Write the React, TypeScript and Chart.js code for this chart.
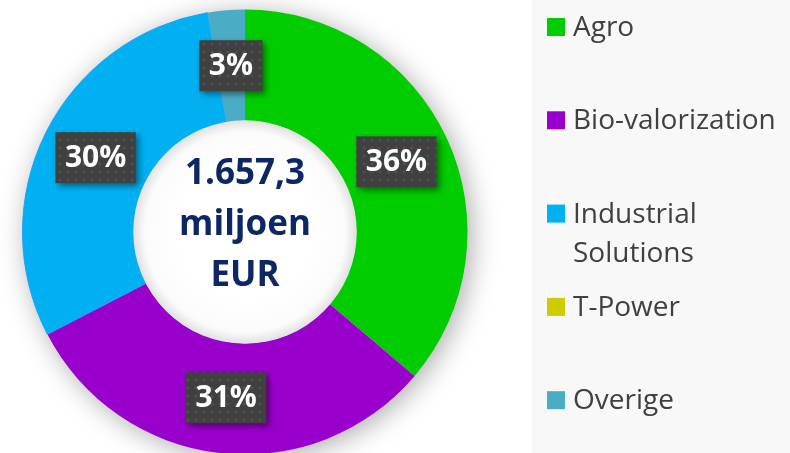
import React, { useEffect, useRef } from "react";
import { Chart, registerables } from "chart.js";
Chart.register(...registerables);

const segments = ["Agro", "Bio-valorization", "Industrial Solutions", "T-Power", "Overige"];
const shares = [36.2, 31.2, 29.9, 0, 2.7];
const colors = ["#00cc00", "#9900cc", "#00b0f0", "#cccc00", "#4bacc6"];
const centerLines = ["1.657,3", "miljoen", "EUR"];

function makePattern(ctx: CanvasRenderingContext2D) {
  const c = document.createElement("canvas");
  c.width = 8;
  c.height = 8;
  const p = c.getContext("2d")!;
  p.fillStyle = "#404040";
  p.fillRect(0, 0, 8, 8);
  p.fillStyle = "rgba(255,255,255,0.08)";
  p.beginPath();
  p.arc(4, 4, 1.6, 0, Math.PI * 2);
  p.fill();
  return ctx.createPattern(c, "repeat");
}

const decorPlugin = {
  id: "decor",
  beforeDraw(chart: any) {
    const ctx = chart.ctx;
    ctx.save();
    ctx.fillStyle = "#ffffff";
    ctx.fillRect(0, 0, chart.width, chart.height);
    ctx.fillStyle = "#f8f8f8";
    ctx.fillRect(532, 0, chart.width - 532, chart.height);
    ctx.restore();
  },
  beforeDatasetsDraw(chart: any) {
    const meta = chart.getDatasetMeta(0);
    const arc = meta.data[0];
    if (!arc) return;
    const ctx = chart.ctx;
    ctx.save();
    ctx.shadowColor = "rgba(0,0,0,0.35)";
    ctx.shadowBlur = 28;
    ctx.shadowOffsetX = 4;
    ctx.shadowOffsetY = 4;
    ctx.fillStyle = "#ffffff";
    ctx.beginPath();
    ctx.arc(arc.x, arc.y, arc.outerRadius - 1, 0, Math.PI * 2);
    ctx.fill();
    ctx.restore();
  },
  afterDatasetsDraw(chart: any) {
    const meta = chart.getDatasetMeta(0);
    const ctx = chart.ctx;
    const a0 = meta.data[0];
    if (!a0) return;
    const cx = a0.x, cy = a0.y, ir = a0.innerRadius;
    // inner hole shading
    ctx.save();
    const g = ctx.createRadialGradient(cx, cy, ir * 0.6, cx, cy, ir);
    g.addColorStop(0, "#ffffff");
    g.addColorStop(0.75, "#fbfbfb");
    g.addColorStop(1, "#e2e2e2");
    ctx.fillStyle = g;
    ctx.beginPath();
    ctx.arc(cx, cy, ir + 0.5, 0, Math.PI * 2);
    ctx.fill();
    ctx.restore();

    // center text
    ctx.save();
    ctx.fillStyle = "#0c2763";
    ctx.font = "bold 35px 'Open Sans'";
    ctx.textAlign = "center";
    ctx.textBaseline = "middle";
    const lh = 51;
    centerLines.forEach((t, i) => {
      ctx.fillText(t, cx, cy - 58 + i * lh);
    });
    ctx.restore();

    // value labels
    const pattern = makePattern(ctx);
    meta.data.forEach((arc: any, i: number) => {
      const v = shares[i];
      if (!v) return;
      const txt = Math.round(v) + "%";
      const p = arc.tooltipPosition();
      ctx.save();
      ctx.font = "bold 30px 'Open Sans'";
      const w = ctx.measureText(txt).width + 19;
      const h = 51;
      ctx.shadowColor = "rgba(0,0,0,0.45)";
      ctx.shadowBlur = 6;
      ctx.shadowOffsetX = 3;
      ctx.shadowOffsetY = 3;
      ctx.fillStyle = pattern || "#404040";
      ctx.fillRect(p.x - w / 2, p.y - h / 2, w, h);
      ctx.shadowColor = "transparent";
      ctx.fillStyle = "#ffffff";
      ctx.textAlign = "center";
      ctx.textBaseline = "middle";
      ctx.fillText(txt, p.x, p.y + 1);
      ctx.restore();
    });

    // legend
    ctx.save();
    ctx.font = "28px 'Open Sans'";
    ctx.textBaseline = "middle";
    ctx.textAlign = "left";
    segments.forEach((s, i) => {
      const y = 27 + i * 93.3;
      ctx.fillStyle = colors[i];
      ctx.fillRect(547, y - 9, 18, 18);
      ctx.fillStyle = "#404040";
      const words = s.split(" ");
      const lines: string[] = [];
      let cur = "";
      words.forEach((wd) => {
        const test = cur ? cur + " " + wd : wd;
        if (ctx.measureText(test).width > 212 && cur) {
          lines.push(cur);
          cur = wd;
        } else cur = test;
      });
      lines.push(cur);
      lines.forEach((l, j) => ctx.fillText(l, 573, y + 1 + j * 39));
    });
    ctx.restore();
  },
};

export default function App() {
  const ref = useRef<HTMLCanvasElement>(null);
  useEffect(() => {
    const chart = new Chart(ref.current!, {
      type: "doughnut",
      data: {
        labels: segments,
        datasets: [
          {
            data: shares,
            backgroundColor: colors,
            borderColor: ["#00cc00", "#9900cc", "#1aa3ff", "#cccc00", "#4bacc6"],
            borderWidth: [0, 0, 1, 0, 0],
          },
        ],
      },
      options: {
        responsive: false,
        animation: false,
        cutout: "50%",
        layout: { padding: { left: 22, right: 322, top: 9, bottom: 15 } },
        plugins: {
          legend: { display: false },
          tooltip: { enabled: false },
        },
      },
      plugins: [decorPlugin],
    });
    return () => chart.destroy();
  }, []);
  return (
    <div style={{ position: "fixed", left: 0, top: 0, width: 790, height: 453, overflow: "hidden", background: "#fff" }}>
      <canvas ref={ref} width={790} height={470} style={{ display: "block", width: 790, height: 470 }} />
    </div>
  );
}
